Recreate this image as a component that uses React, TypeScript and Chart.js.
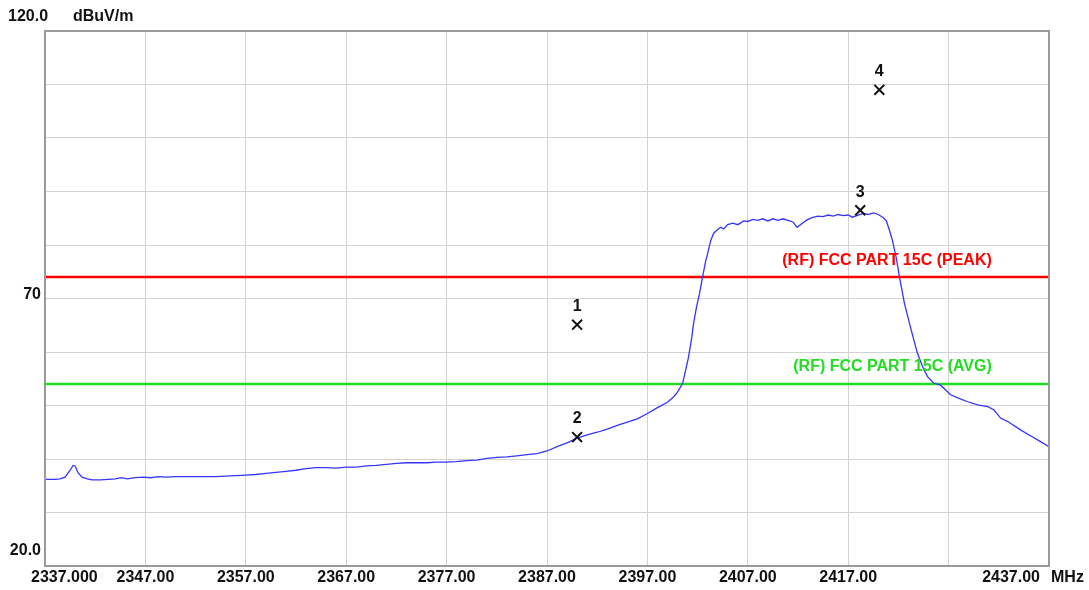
import React, { useEffect, useRef } from "react";
import { Chart, registerables } from "chart.js";

Chart.register(...registerables);

// Spectrum trace (MHz, dBuV/m)
const frequencies = [
  2337.0, 2337.5, 2338.0, 2338.5, 2339.0, 2339.5, 2339.8, 2340.0, 2340.3, 2340.7,
  2341.2, 2341.7, 2342.5, 2343.3, 2344.0, 2344.6, 2345.2, 2346.0, 2346.8, 2347.5,
  2348.3, 2349.0, 2350.0, 2351.0, 2352.0, 2353.0, 2354.0, 2355.0, 2356.0, 2357.0,
  2358.0, 2359.0, 2360.0, 2361.0, 2362.0, 2363.0, 2364.0, 2365.0, 2366.0, 2367.0,
  2368.0, 2369.0, 2370.0, 2371.0, 2372.0, 2373.0, 2374.0, 2375.0, 2376.0, 2377.0,
  2378.0, 2379.0, 2380.0, 2381.0, 2382.0, 2383.0, 2384.0, 2385.0, 2386.0, 2387.0,
  2388.0, 2389.0, 2390.0, 2391.0, 2392.0, 2393.0, 2394.0, 2395.0, 2396.0, 2397.0,
  2398.0, 2399.0, 2399.6, 2400.0, 2400.5, 2400.8, 2401.1, 2401.4, 2401.6, 2401.9,
  2402.2, 2402.5, 2402.8, 2403.0, 2403.3, 2403.6, 2404.0, 2404.3, 2404.6, 2405.0,
  2405.5, 2406.0, 2406.6, 2407.0, 2407.5, 2408.0, 2408.5, 2409.0, 2409.5, 2410.0,
  2410.5, 2411.0, 2411.5, 2411.9, 2412.4, 2412.9, 2413.4, 2414.0, 2414.5, 2415.0,
  2415.5, 2416.0, 2416.5, 2417.0, 2417.4, 2418.0, 2418.5, 2419.0, 2419.5, 2420.0,
  2420.5, 2420.8, 2421.1, 2421.4, 2421.8, 2422.1, 2422.6, 2423.1, 2423.5, 2423.9,
  2424.4, 2424.9, 2425.5, 2426.2, 2427.2, 2428.1, 2428.9, 2429.9, 2430.9, 2431.5,
  2432.2, 2432.9, 2434.2, 2435.2, 2436.2, 2437.0,
];
const levels = [
  36.2, 36.2, 36.2, 36.3, 36.6, 37.9, 38.8, 38.7, 37.4, 36.6,
  36.3, 36.1, 36.1, 36.2, 36.3, 36.5, 36.3, 36.5, 36.6, 36.5,
  36.7, 36.6, 36.7, 36.7, 36.7, 36.7, 36.7, 36.8, 36.9, 37.0,
  37.1, 37.3, 37.5, 37.7, 37.9, 38.2, 38.4, 38.4, 38.3, 38.5,
  38.5, 38.7, 38.8, 39.0, 39.2, 39.3, 39.3, 39.3, 39.4, 39.4,
  39.5, 39.7, 39.8, 40.1, 40.3, 40.4, 40.6, 40.8, 41.0, 41.5,
  42.3, 43.0, 43.9, 44.5, 45.0, 45.6, 46.3, 46.9, 47.5, 48.5,
  49.6, 50.6, 51.6, 52.5, 54.1, 56.5, 59.1, 62.5, 65.4, 68.5,
  71.0, 74.1, 77.0, 78.4, 80.8, 82.2, 82.9, 83.3, 83.0, 83.8,
  84.1, 83.8, 84.5, 84.4, 84.8, 84.6, 84.9, 84.5, 84.9, 84.6,
  84.9, 84.6, 84.3, 83.3, 84.0, 84.7, 85.1, 85.4, 85.3, 85.6,
  85.4, 85.7, 85.5, 85.6, 85.2, 85.6, 85.9, 85.7, 86.0, 85.7,
  85.1, 84.5, 82.8, 80.9, 77.5, 74.1, 69.1, 65.4, 62.5, 59.75,
  57.3, 55.4, 54.2, 53.8, 52.0, 51.3, 50.7, 50.1, 49.8, 49.2,
  47.6, 47.0, 45.4, 44.3, 43.2, 42.3,
];

// Markers
const markerFreqs = [2390.0, 2390.0, 2418.2, 2420.1];
const markerLevels = [65.1, 44.1, 86.5, 109.0];
const markerNames = ["1", "2", "3", "4"];

// Limit lines
const peakLimit = 74;
const avgLimit = 54;
const peakLabel = "(RF) FCC PART 15C (PEAK)";
const avgLabel = "(RF) FCC PART 15C (AVG)";

// Axes
const xMin = 2337;
const xMax = 2437;
const yMin = 20;
const yMax = 120;
const xTickValues = [2337, 2347, 2357, 2367, 2377, 2387, 2397, 2407, 2417, 2427, 2437];
const xTickLabels = ["2337.000", "2347.00", "2357.00", "2367.00", "2377.00", "2387.00", "2397.00", "2407.00", "2417.00", "", "2437.00"];
const yLabelValues = [120, 70, 20];
const yLabelTexts = ["120.0", "70", "20.0"];
const yUnit = "dBuV/m";
const xUnit = "MHz";

const FONT = `bold 16px "Liberation Sans", Arial, sans-serif`;

const overlayPlugin = {
  id: "overlay",
  afterDraw(chart: any) {
    const ctx = chart.ctx;
    const { left, right, top, bottom } = chart.chartArea;
    const xs = chart.scales.x;
    const ys = chart.scales.y;
    ctx.save();
    // frame
    ctx.strokeStyle = "#9a9a9a";
    ctx.lineWidth = 2;
    ctx.strokeRect(left, top, right - left, bottom - top);

    ctx.fillStyle = "#111";
    ctx.font = FONT;
    ctx.textBaseline = "middle";
    // y labels
    yLabelValues.forEach((v, i) => {
      const py = ys.getPixelForValue(v);
      if (i === 0) {
        ctx.textAlign = "left";
        ctx.fillText(yLabelTexts[i], 8, py - 14);
        ctx.fillText(yUnit, 73, py - 14);
      } else if (i === yLabelValues.length - 1) {
        ctx.textAlign = "right";
        ctx.fillText(yLabelTexts[i], left - 4, py - 15);
      } else {
        ctx.textAlign = "right";
        ctx.fillText(yLabelTexts[i], left - 4, py - 4);
      }
    });
    // x labels
    xTickValues.forEach((v, i) => {
      const t = xTickLabels[i];
      if (!t) return;
      const px = xs.getPixelForValue(v);
      if (i === 0) {
        ctx.textAlign = "left";
        ctx.fillText(t, px - 14, bottom + 12);
      } else if (i === xTickValues.length - 1) {
        ctx.textAlign = "right";
        ctx.fillText(t, px - 9, bottom + 12);
      } else {
        ctx.textAlign = "center";
        ctx.fillText(t, px, bottom + 12);
      }
    });
    ctx.textAlign = "left";
    ctx.fillText(xUnit, right + 2, bottom + 12);

    // limit labels
    ctx.textAlign = "right";
    ctx.fillStyle = "#ff0000";
    ctx.fillText(peakLabel, xs.getPixelForValue(2431.3), ys.getPixelForValue(peakLimit) - 17);
    ctx.fillStyle = "#22dd22";
    ctx.fillText(avgLabel, xs.getPixelForValue(2431.3), ys.getPixelForValue(avgLimit) - 18);

    // marker numbers
    ctx.fillStyle = "#111";
    ctx.textAlign = "center";
    markerNames.forEach((n, i) => {
      ctx.fillText(n, xs.getPixelForValue(markerFreqs[i]), ys.getPixelForValue(markerLevels[i]) - 18);
    });
    ctx.restore();
  },
};

export default function App() {
  const ref = useRef<HTMLCanvasElement | null>(null);
  useEffect(() => {
    if (!ref.current) return;
    const chart = new Chart(ref.current, {
      type: "line",
      data: {
        datasets: [
          {
            label: "markers",
            data: markerFreqs.map((f, i) => ({ x: f, y: markerLevels[i] })),
            showLine: false,
            pointStyle: "crossRot",
            pointRadius: 7,
            pointBorderWidth: 2,
            borderColor: "#111",
            backgroundColor: "#111",
            order: 0,
          },
          {
            label: "trace",
            data: frequencies.map((f, i) => ({ x: f, y: levels[i] })),
            borderColor: "#3535ff",
            borderWidth: 1.3,
            pointRadius: 0,
            tension: 0,
            order: 1,
          },
          {
            label: "peak",
            data: [{ x: xMin, y: peakLimit }, { x: xMax, y: peakLimit }],
            borderColor: "#ff0000",
            borderWidth: 2.5,
            pointRadius: 0,
            order: 2,
          },
          {
            label: "avg",
            data: [{ x: xMin, y: avgLimit }, { x: xMax, y: avgLimit }],
            borderColor: "#22dd22",
            borderWidth: 2.5,
            pointRadius: 0,
            order: 3,
          },
        ],
      },
      options: {
        animation: false,
        responsive: false,
        maintainAspectRatio: false,
        layout: { padding: { left: 45, top: 31, right: 40, bottom: 24 } },
        plugins: { legend: { display: false }, tooltip: { enabled: false } },
        scales: {
          x: {
            type: "linear",
            min: xMin,
            max: xMax,
            afterBuildTicks: (s: any) => {
              s.ticks = xTickValues.map((v) => ({ value: v }));
            },
            ticks: { display: false },
            border: { display: false },
            grid: { color: "#d2d2d2", lineWidth: 1, drawTicks: false },
          },
          y: {
            type: "linear",
            min: yMin,
            max: yMax,
            ticks: { display: false, stepSize: 10 },
            border: { display: false },
            grid: { color: "#d2d2d2", lineWidth: 1, drawTicks: false },
          },
        },
      },
      plugins: [overlayPlugin],
    });
    return () => chart.destroy();
  }, []);
  return (
    <div style={{ position: "fixed", left: 0, top: 0, width: 1089, height: 590, background: "#fff" }}>
      <canvas ref={ref} width={1089} height={590} style={{ display: "block" }} />
    </div>
  );
}
